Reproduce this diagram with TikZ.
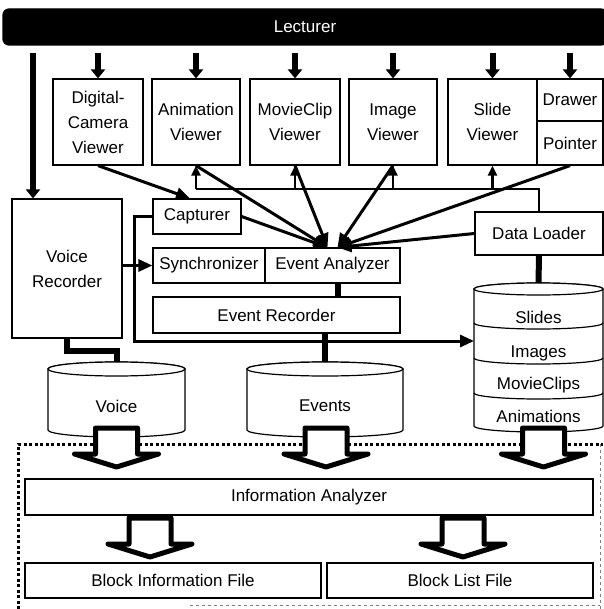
\documentclass[tikz,border=0pt]{standalone}
\usepackage{fontspec}
\setmainfont{Liberation Sans}
\usetikzlibrary{arrows.meta}

\begin{document}
\begin{tikzpicture}[x=1pt,y=1pt,
  font=\fontsize{17}{25}\selectfont,
  box/.style={draw,line width=1.2pt,align=center,inner sep=0pt,fill=white},
  fat/.style={line width=6pt,-{Triangle[width=14pt,length=9pt]}},
  heavy/.style={line width=6pt},
  link/.style={line width=3pt,-{Triangle[width=12pt,length=14pt]}},
  thinlink/.style={line width=2.2pt},
  uptip/.style={line width=2.2pt,-{Triangle[width=9pt,length=10pt]}},
  drum/.style={line width=1.2pt,fill=white},
  dotbox/.style={line width=3pt,dash pattern=on 3pt off 2.5pt},
  faint/.style={gray,line width=0.7pt,dashed},
  blockarrow/.pic={\draw[line width=5pt,fill=white,line join=round]
    (-21,0) -- (-21,-26) -- (-42,-26) -- (0,-39) -- (42,-26) -- (21,-26) -- (21,0) -- cycle;}]

  \useasboundingbox (0,0) rectangle (603,-609);

  % lecturer and viewers
  \node[box,fill=black,text=white,rounded corners=6pt,minimum width=604,minimum height=36] (lecturer) at (305,-27) {Lecturer};

  \node[box,minimum width=90,minimum height=86] (dcv) at (98,-122) {Digital-\\Camera\\Viewer};
  \node[box,minimum width=88,minimum height=86] (av) at (196,-122) {Animation\\Viewer};
  \node[box,minimum width=90,minimum height=86] (mcv) at (295,-122) {MovieClip\\Viewer};
  \node[box,minimum width=88,minimum height=86] (iv) at (393,-122) {Image\\Viewer};
  \node[box,minimum width=89,minimum height=86] (sv) at (492.5,-122) {Slide\\Viewer};
  \node[box,minimum width=66,minimum height=42] (drawer) at (570,-100) {Drawer};
  \node[box,minimum width=66,minimum height=44] (pointer) at (570,-143) {Pointer};

  % recorders and analyzers
  \node[box,minimum width=110,minimum height=139] (vr) at (67,-268.5) {Voice\\Recorder};
  \node[box,minimum width=88,minimum height=35] (cap) at (197,-216.5) {Capturer};
  \node[box,minimum width=128,minimum height=43] (loader) at (539,-233.5) {Data Loader};
  \node[box,minimum width=112,minimum height=35] (sync) at (209,-265.5) {Synchronizer};
  \node[box,minimum width=135,minimum height=35] (ea) at (332.5,-265.5) {Event Analyzer};
  \node[box,minimum width=247,minimum height=36] (er) at (276.5,-315) {Event Recorder};

  % data stores
  \draw[drum] (48,-369) -- (48,-430) arc[start angle=180,end angle=360,x radius=68.5,y radius=7]
    -- (185,-369) arc[start angle=0,end angle=180,x radius=68.5,y radius=7] -- cycle;
  \draw[drum] (116.5,-369) ellipse[x radius=68.5,y radius=7];
  \draw[drum] (247,-369) -- (247,-430) arc[start angle=180,end angle=360,x radius=78,y radius=7]
    -- (403,-369) arc[start angle=0,end angle=180,x radius=78,y radius=7] -- cycle;
  \draw[drum] (325,-369) ellipse[x radius=78,y radius=7];
  \draw[drum] (474,-289) -- (474,-426) arc[start angle=180,end angle=360,x radius=64.5,y radius=6]
    -- (603,-289) arc[start angle=0,end angle=180,x radius=64.5,y radius=6] -- cycle;
  \draw[drum] (538.5,-289) ellipse[x radius=64.5,y radius=6];
  \foreach \y in {-323,-358,-393}
    \draw[line width=1.2pt] (474,\y) arc[start angle=180,end angle=360,x radius=64.5,y radius=6];

  \node (voice) at (116.5,-406) {Voice};
  \node (events) at (325,-406) {Events};
  \node (slides) at (538.5,-317) {Slides};
  \node (images) at (538.5,-353) {Images};
  \node (movieclips) at (538.5,-385) {MovieClips};
  \node (animations) at (538.5,-416) {Animations};

  \coordinate (voicetop) at (116.5,-362);
  \coordinate (eventstop) at (325,-362);
  \coordinate (stacktop) at (538.5,-283);
  \coordinate (stackleft) at (474,-341);
  \coordinate (fbline) at (0,-189);

  % lecturer arrows
  \foreach \n in {dcv,av,mcv,iv,sv,drawer}
    \draw[fat,shorten <=7pt] (\n.north |- lecturer.south) -- (\n.north);
  \draw[fat,shorten <=7pt] ([xshift=-34pt]vr.north |- lecturer.south) -- ([xshift=-34pt]vr.north);

  % feedback from data loader
  \draw[thinlink] (loader.north) |- (av.south |- fbline);
  \foreach \n in {av,mcv,iv,sv}
    \draw[uptip] (\n.south |- fbline) -- (\n.south);

  % events into the analyzer
  \draw[link] (dcv.south) -- ([xshift=-7pt]cap.north);
  \foreach \n in {av.south,mcv.south,cap.east}
    \draw[link] (\n) -- ([xshift=-5pt]ea.north);
  \foreach \n in {iv.south,pointer.south,loader.west}
    \draw[link] (\n) -- ([xshift=5pt]ea.north);
  \draw[link] (cap.west) -- ++(-18,0) |- (stackleft);
  \draw[link] (vr.east |- sync.west) -- (sync.west);

  \draw[heavy] (vr.south) -- ++(0,-12) -| (voicetop);
  \draw[heavy] (eventstop |- er.south) -- (eventstop);
  \draw[heavy] ([xshift=5pt]ea.south) -- ([xshift=5pt]ea.south |- er.north);
  \draw[heavy] (loader.south) -- (stacktop);

  % analysis part
  \draw[dotbox] (18,-609) -- (18,-444) -- (603,-444);
  \draw[faint] (600,-444) -- (600,-609);
  \draw[faint] (190,-605) -- (600,-605);

  \node[box,minimum width=568,minimum height=36] (ia) at (309,-497) {Information Analyzer};
  \node[box,minimum width=296,minimum height=35] (bif) at (173,-580.5) {Block Information File};
  \node[box,minimum width=266,minimum height=35] (blf) at (460,-580.5) {Block List File};

  \pic at (116.5,-428) {blockarrow};
  \pic at (326,-428) {blockarrow};
  \pic at (543.5,-428) {blockarrow};
  \pic at (150,-518) {blockarrow};
  \pic at (463,-518) {blockarrow};
\end{tikzpicture}
\end{document}
